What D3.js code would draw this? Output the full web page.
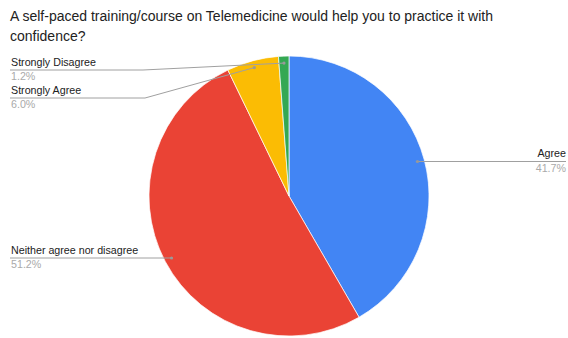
<!DOCTYPE html>
<html><head><meta charset="utf-8">
<script src="https://cdn.jsdelivr.net/npm/d3@7"></script>
<style>body{margin:0;background:#fff}svg{display:block;font-family:Arial,"Liberation Sans",sans-serif}</style>
</head><body>
<svg id="c" width="568" height="338"></svg>
<script>
const categories = ["Agree","Neither agree nor disagree","Strongly Agree","Strongly Disagree"];
const values = [41.7, 51.2, 6.0, 1.2];
const colors = ["#4285F4","#EA4335","#FBBC04","#34A853"];
const titleLines = ["A self-paced training/course on Telemedicine would help you to practice it with","confidence?"];

const svg = d3.select("#c");
const cx = 289, cy = 196, R = 140;
svg.append("g").selectAll("text").data(titleLines).join("text")
  .attr("x",10).attr("y",(d,i)=>21+i*19.5).attr("font-size",14).attr("fill","#222").text(d=>d);

const pie = d3.pie().sort(null).value(d=>d);
const arcs = pie(values);
const arc = d3.arc().innerRadius(0).outerRadius(R);
const g = svg.append("g").attr("transform",`translate(${cx},${cy})`);
g.selectAll("path").data(arcs).join("path").attr("d",arc)
  .attr("fill",(d,i)=>colors[i]).attr("stroke","#fff").attr("stroke-width",0.7);

const dotR = R*0.95;
function pt(a){ const m=(a.startAngle+a.endAngle)/2; return [cx+Math.sin(m)*dotR, cy-Math.cos(m)*dotR]; }
const layout = [
  {y:161.5, side:"right", elbow:null},
  {y:258, side:"left", elbow:null},
  {y:98, side:"left", elbow:145},
  {y:70, side:"left", elbow:143}
];
const lab = svg.append("g");
arcs.forEach((a,i)=>{
  const [px,py]=pt(a); const L=layout[i];
  const endX = L.side==="right"?566:10;
  let pts = L.elbow? [[px,py],[L.elbow,L.y],[endX,L.y]] : [[px,L.y],[endX,L.y]];
  lab.append("path").attr("d",d3.line()(pts)).attr("fill","none").attr("stroke","#a0a0a0").attr("stroke-width",1);
  lab.append("circle").attr("cx",px).attr("cy",L.elbow?py:L.y).attr("r",1.6).attr("fill","#999");
  const tx = L.side==="right"?566:11, anchor=L.side==="right"?"end":"start";
  lab.append("text").attr("x",tx).attr("y",L.y-4.5).attr("text-anchor",anchor).attr("font-size",10.7).attr("fill","#222").text(categories[i]);
  lab.append("text").attr("x",tx).attr("y",L.y+10).attr("text-anchor",anchor).attr("font-size",10.7).attr("fill","#aaaaaa").text(values[i].toFixed(1)+"%");
});
</script>
</body></html>
